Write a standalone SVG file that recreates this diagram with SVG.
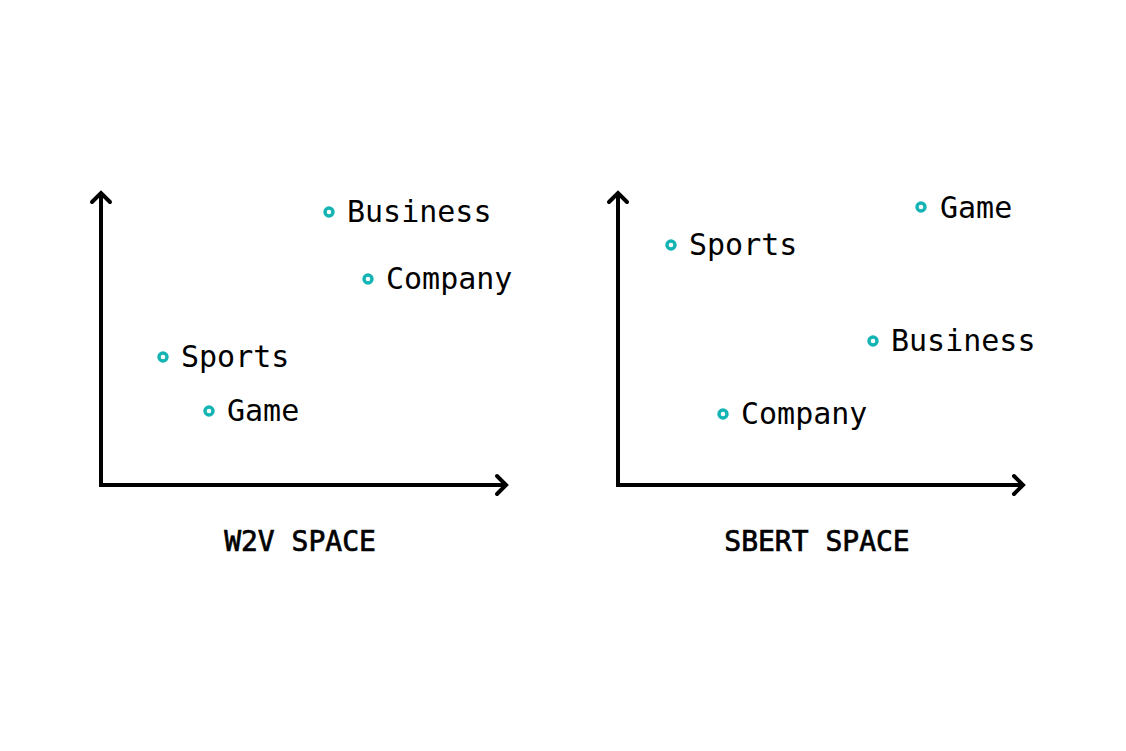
<svg xmlns="http://www.w3.org/2000/svg" width="1126" height="751" viewBox="0 0 1126 751">
<style>
.axis{fill:none;stroke:#000;stroke-width:4;stroke-linecap:square}
.head{fill:none;stroke:#000;stroke-width:4;stroke-linecap:round;stroke-linejoin:miter}
.dot{fill:#fff;stroke:#14b4b4;stroke-width:3.4}
.lbl{font-family:"DejaVu Sans Mono","Liberation Mono",monospace;font-size:30px;fill:#000}
.title{font-family:"DejaVu Sans Mono","Liberation Mono",monospace;font-size:28px;fill:#000;stroke:#000;stroke-width:0.7;text-anchor:middle}
</style>
<rect width="1126" height="751" fill="#fff"/>
<g id="connectors">
<g id="w2v-axes">
<polyline class="axis" points="101,194 101,485 505,485"/>
<polyline class="head" points="92,202 101,193 110,202"/>
<polyline class="head" points="497,476 506,485 497,494"/>
</g>
<g id="sbert-axes">
<polyline class="axis" points="618,194 618,485 1022,485"/>
<polyline class="head" points="609,202 618,193 627,202"/>
<polyline class="head" points="1014,476 1023,485 1014,494"/>
</g>
</g>
<g id="w2v-business"><circle class="dot" cx="329" cy="212" r="4"/><text class="lbl" x="347" y="222">Business</text></g>
<g id="w2v-company"><circle class="dot" cx="368" cy="279" r="4"/><text class="lbl" x="386" y="289">Company</text></g>
<g id="w2v-sports"><circle class="dot" cx="163" cy="357" r="4"/><text class="lbl" x="181" y="367">Sports</text></g>
<g id="w2v-game"><circle class="dot" cx="209" cy="411" r="4"/><text class="lbl" x="227" y="421">Game</text></g>
<g id="w2v-title"><text class="title" x="300" y="551">W2V SPACE</text></g>
<g id="sbert-game"><circle class="dot" cx="921" cy="207" r="4"/><text class="lbl" x="940" y="218">Game</text></g>
<g id="sbert-sports"><circle class="dot" cx="671" cy="245" r="4"/><text class="lbl" x="689" y="255">Sports</text></g>
<g id="sbert-business"><circle class="dot" cx="873" cy="341" r="4"/><text class="lbl" x="891" y="351">Business</text></g>
<g id="sbert-company"><circle class="dot" cx="723" cy="414" r="4"/><text class="lbl" x="741" y="424">Company</text></g>
<g id="sbert-title"><text class="title" x="817" y="551">SBERT SPACE</text></g>
</svg>
